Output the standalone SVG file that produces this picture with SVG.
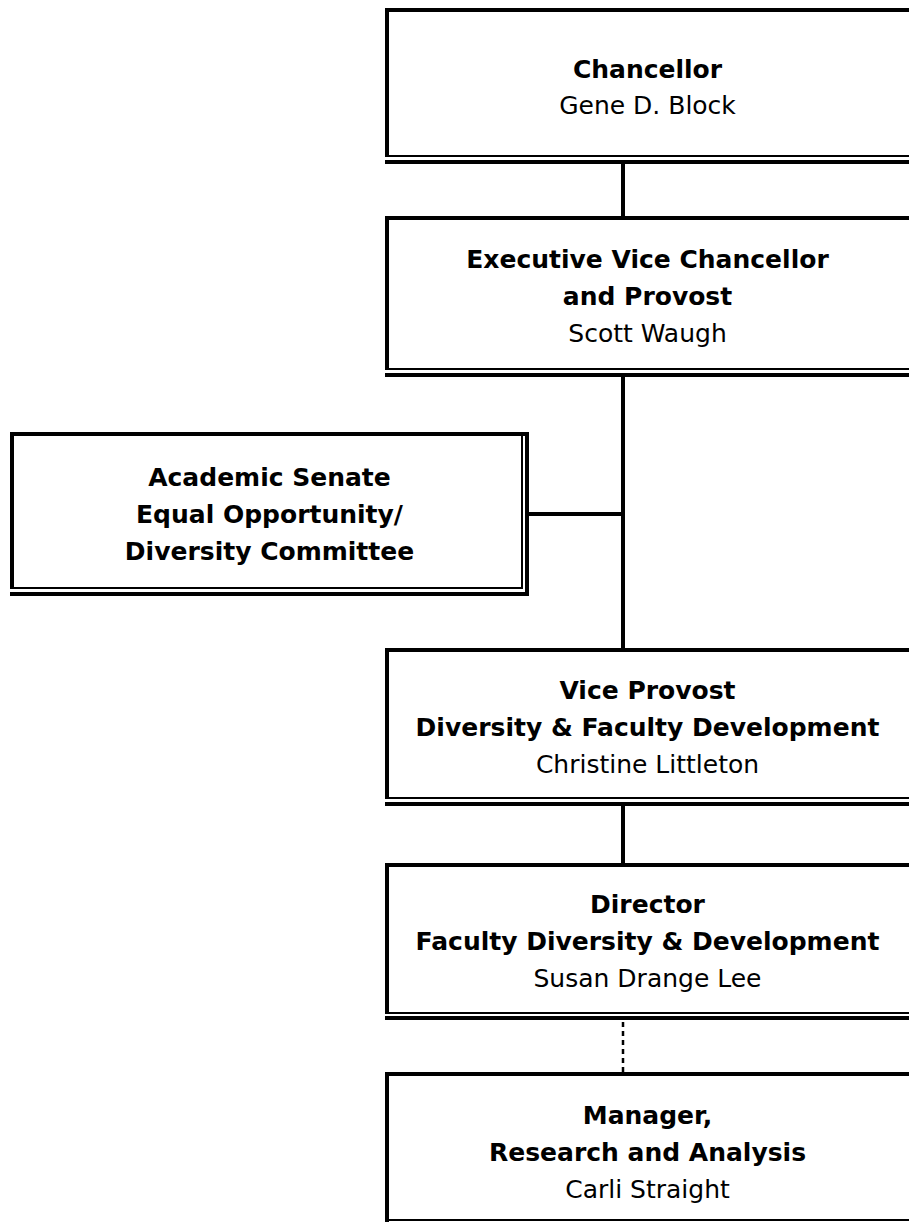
<svg xmlns="http://www.w3.org/2000/svg" width="909" height="1222" viewBox="0 0 909 1222">
  <style>
    .edge { fill: #000; }
    .t { font-family: "DejaVu Sans", "Liberation Sans", sans-serif; font-size: 25px; fill: #000; text-anchor: middle; }
    .b { font-weight: bold; }
    .wire { stroke: #000; stroke-width: 4; fill: none; }
    .dash { stroke: #000; stroke-width: 2.5; fill: none; stroke-dasharray: 5 4; }
  </style>
  <rect width="909" height="1222" fill="#fff"/>

  <!-- connectors -->
  <g id="connectors">
    <line class="wire" x1="623" y1="164" x2="623" y2="216"/>
    <line class="wire" x1="623" y1="377" x2="623" y2="648"/>
    <line class="wire" x1="529" y1="514" x2="623" y2="514"/>
    <line class="wire" x1="623" y1="806" x2="623" y2="863"/>
    <line class="dash" x1="623" y1="1022" x2="623" y2="1072"/>
  </g>

  <!-- Boxes: thick top/left rule, thin+thick double rule on bottom/right -->
  <g id="chancellor">
    <rect class="edge" x="385" y="8" width="535" height="4"/>
    <rect class="edge" x="385" y="8" width="4" height="149"/>
    <rect class="edge" x="385" y="155" width="527" height="2"/>
    <rect class="edge" x="385" y="160" width="535" height="4"/>
    <text class="t b" x="647.5" y="78">Chancellor</text>
    <text class="t" x="647.5" y="114">Gene D. Block</text>
  </g>

  <g id="evc-provost">
    <rect class="edge" x="385" y="216" width="535" height="4"/>
    <rect class="edge" x="385" y="216" width="4" height="154"/>
    <rect class="edge" x="385" y="368" width="527" height="2"/>
    <rect class="edge" x="385" y="373" width="535" height="4"/>
    <text class="t b" x="647.5" y="268">Executive Vice Chancellor</text>
    <text class="t b" x="647.5" y="305">and Provost</text>
    <text class="t" x="647.5" y="342">Scott Waugh</text>
  </g>

  <g id="senate-committee">
    <rect class="edge" x="10" y="432" width="519" height="4"/>
    <rect class="edge" x="10" y="432" width="4" height="157"/>
    <rect class="edge" x="10" y="587" width="513" height="2"/>
    <rect class="edge" x="521" y="436" width="2" height="153"/>
    <rect class="edge" x="10" y="592" width="519" height="4"/>
    <rect class="edge" x="525" y="432" width="4" height="164"/>
    <text class="t b" x="269.5" y="486">Academic Senate</text>
    <text class="t b" x="269.5" y="523">Equal Opportunity/</text>
    <text class="t b" x="269.5" y="560">Diversity Committee</text>
  </g>

  <g id="vice-provost">
    <rect class="edge" x="385" y="648" width="535" height="4"/>
    <rect class="edge" x="385" y="648" width="4" height="151"/>
    <rect class="edge" x="385" y="797" width="527" height="2"/>
    <rect class="edge" x="385" y="802" width="535" height="4"/>
    <text class="t b" x="647.5" y="699">Vice Provost</text>
    <text class="t b" x="647.5" y="736">Diversity &amp; Faculty Development</text>
    <text class="t" x="647.5" y="773">Christine Littleton</text>
  </g>

  <g id="director">
    <rect class="edge" x="385" y="863" width="535" height="4"/>
    <rect class="edge" x="385" y="863" width="4" height="151"/>
    <rect class="edge" x="385" y="1012" width="527" height="2"/>
    <rect class="edge" x="385" y="1016" width="535" height="4"/>
    <text class="t b" x="647.5" y="913">Director</text>
    <text class="t b" x="647.5" y="950">Faculty Diversity &amp; Development</text>
    <text class="t" x="647.5" y="987">Susan Drange Lee</text>
  </g>

  <g id="manager">
    <rect class="edge" x="385" y="1072" width="535" height="4"/>
    <rect class="edge" x="385" y="1072" width="4" height="150"/>
    <rect class="edge" x="385" y="1219" width="527" height="2"/>
    <text class="t b" x="647.5" y="1124">Manager,</text>
    <text class="t b" x="647.5" y="1161">Research and Analysis</text>
    <text class="t" x="647.5" y="1198">Carli Straight</text>
  </g>
</svg>
